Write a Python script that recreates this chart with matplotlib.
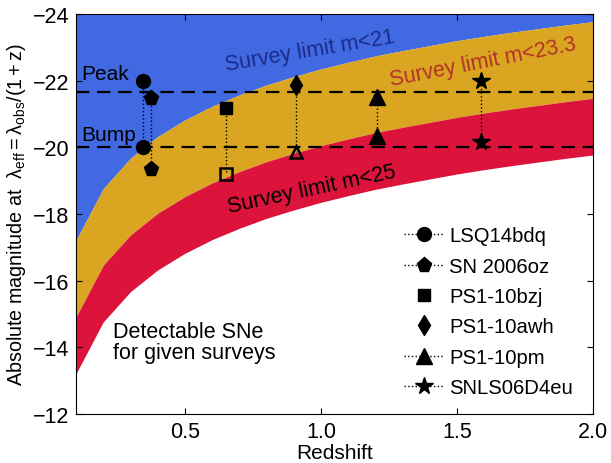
import matplotlib
matplotlib.use("Agg")
import matplotlib.pyplot as plt
from matplotlib.lines import Line2D

plt.rcParams['font.family'] = ['Liberation Sans', 'DejaVu Sans']
plt.rcParams['mathtext.fontset'] = 'custom'
plt.rcParams['mathtext.rm'] = 'Liberation Sans'
plt.rcParams['mathtext.it'] = 'Liberation Sans'
plt.rcParams['mathtext.default'] = 'regular'

# Redshift grid for the survey limit curves
z_grid = [0.1, 0.2, 0.3, 0.4, 0.5, 0.6, 0.7, 0.8, 0.9, 1.0,
          1.1, 1.2, 1.3, 1.4, 1.5, 1.6, 1.7, 1.8, 1.9, 2.0]
# Limiting absolute magnitudes
lim_m21 = [-17.21, -18.76, -19.67, -20.32, -20.82, -21.23, -21.57, -21.87, -22.12, -22.35,
           -22.55, -22.74, -22.90, -23.05, -23.20, -23.33, -23.45, -23.56, -23.67, -23.77]
lim_m233 = [-14.91, -16.46, -17.37, -18.02, -18.52, -18.93, -19.27, -19.57, -19.82, -20.05,
            -20.25, -20.44, -20.60, -20.75, -20.90, -21.03, -21.15, -21.26, -21.37, -21.47]
lim_m25 = [-13.21, -14.76, -15.67, -16.32, -16.82, -17.23, -17.57, -17.87, -18.12, -18.35,
           -18.55, -18.74, -18.90, -19.05, -19.20, -19.33, -19.45, -19.56, -19.67, -19.77]

# Supernovae: redshift, peak mag, bump mag
sn_names = ['LSQ14bdq', 'SN 2006oz', 'PS1-10bzj', 'PS1-10awh', 'PS1-10pm', 'SNLS06D4eu']
sn_z = [0.345, 0.376, 0.650, 0.907, 1.206, 1.588]
sn_peak = [-22.0, -21.48, -21.18, -21.88, -21.5, -22.0]
sn_bump = [-20.0, -19.35, -19.2, -19.85, -20.33, -20.17]
sn_markers = ['o', 'p', 's', 'd', '^', '*']
sn_bump_markers = ['o', 'p', 's', '^', '^', '*']
sn_msize = [10, 11, 9, 10, 11, 13]
sn_bump_msize = [10, 11, 8, 9, 11, 13]
sn_open_bump = [False, False, True, True, False, False]
sn_legend_line = [True, True, False, False, True, True]

peak_level = -21.67
bump_level = -20.0

fig = plt.figure(figsize=(6.11, 4.64), dpi=100)
ax = fig.add_axes([0.1244, 0.1056, 0.8461, 0.8621])

ax.fill_between(z_grid, lim_m21, -24, color='#4169E1', lw=0)
ax.fill_between(z_grid, lim_m233, lim_m21, color='#DAA520', lw=0)
ax.fill_between(z_grid, lim_m25, lim_m233, color='#DC143C', lw=0)

ax.axhline(peak_level, color='black', ls=(0, (6, 3.5)), lw=1.6)
ax.axhline(bump_level, color='black', ls=(0, (6, 3.5)), lw=1.6)

handles = []
for i, name in enumerate(sn_names):
    z = sn_z[i]
    ax.plot([z, z], [sn_peak[i], sn_bump[i]], color='black', ls=':', lw=1.0)
    ax.plot([z], [sn_peak[i]], marker=sn_markers[i], ms=sn_msize[i], color='black', ls='none')
    if sn_open_bump[i]:
        ax.plot([z], [sn_bump[i]], marker=sn_bump_markers[i], ms=sn_bump_msize[i], mfc='none',
                mec='black', mew=1.8, ls='none')
    else:
        ax.plot([z], [sn_bump[i]], marker=sn_bump_markers[i], ms=sn_bump_msize[i],
                color='black', ls='none')
    handles.append(Line2D([], [], color='black', ls=':' if sn_legend_line[i] else 'none',
                          lw=1.0, marker=sn_markers[i], ms=sn_msize[i], label=name))

ax.legend(handles=handles, loc='lower right', bbox_to_anchor=(0.985, 0.012), frameon=False,
          fontsize=14.6, handlelength=2.0, handletextpad=0.25, labelspacing=0.56,
          borderaxespad=0.2)

ax.text(0.961, -22.89, 'Survey limit m<21', color='#1c2b8a', fontsize=15.5, rotation=9.5,
        ha='center', va='center', rotation_mode='anchor')
ax.text(1.595, -22.56, 'Survey limit m<23.3', color='#b3322a', fontsize=15.5, rotation=11,
        ha='center', va='center', rotation_mode='anchor')
ax.text(0.965, -18.75, 'Survey limit m<25', color='black', fontsize=15.5, rotation=12,
        ha='center', va='center', rotation_mode='anchor')

ax.text(0.121, -22.2, 'Peak', fontsize=15, ha='left', va='center')
ax.text(0.121, -20.37, 'Bump', fontsize=15, ha='left', va='center')
ax.text(0.235, -14.15, 'Detectable SNe\nfor given surveys', fontsize=15.5, ha='left',
        va='center', linespacing=1.0)

ax.set_xlim(0.1, 2.0)
ax.set_ylim(-12, -24)
ax.set_xticks([0.5, 1.0, 1.5, 2.0])
ax.set_yticks([-24, -22, -20, -18, -16, -14, -12])
ax.tick_params(direction='in', top=True, right=True, labelsize=15.5, length=4, pad=5)
ax.set_xlabel('Redshift', fontsize=15, labelpad=1)
ax.set_ylabel(r'Absolute magnitude at  $\lambda_{eff}=\lambda_{obs}/(1+z)$', fontsize=14.2,
              labelpad=3)

fig.savefig('out.png', dpi=100)
